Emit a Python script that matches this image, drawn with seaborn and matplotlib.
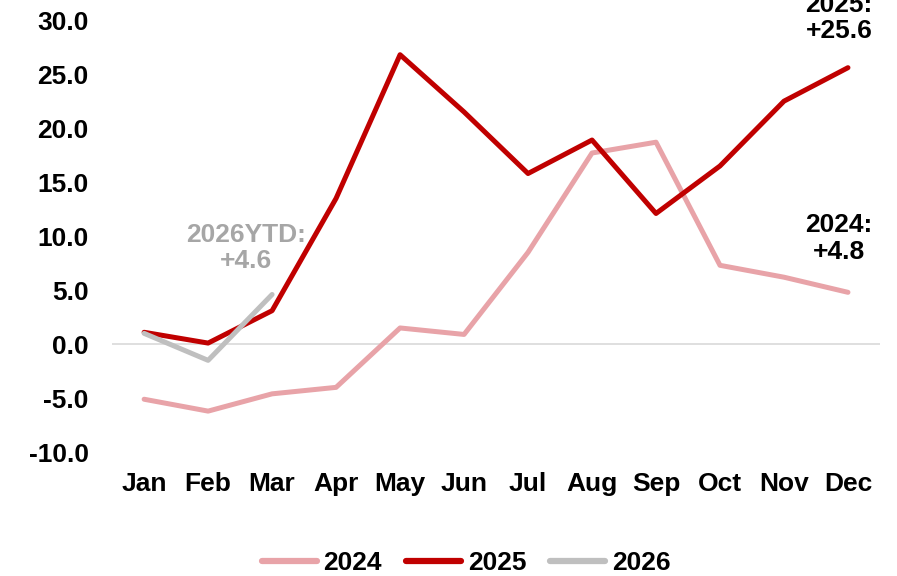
import numpy as np
import pandas as pd
import matplotlib
matplotlib.use("Agg")
import matplotlib.pyplot as plt
import seaborn as sns

months = ["Jan", "Feb", "Mar", "Apr", "May", "Jun", "Jul", "Aug", "Sep", "Oct", "Nov", "Dec"]
v2024 = [-5.1, -6.2, -4.6, -4.0, 1.5, 0.9, 8.5, 17.7, 18.7, 7.3, 6.2, 4.8]
v2025 = [1.1, 0.1, 3.1, 13.5, 26.8, 21.5, 15.8, 18.9, 12.1, 16.5, 22.5, 25.6]
v2026 = [1.0, -1.5, 4.6]
yticks = [-10, -5, 0, 5, 10, 15, 20, 25, 30]

rows = []
for m, v in zip(months, v2024):
    rows.append({"month": m, "value": v, "year": "2024"})
for m, v in zip(months, v2025):
    rows.append({"month": m, "value": v, "year": "2025"})
for m, v in zip(months, v2026):
    rows.append({"month": m, "value": v, "year": "2026"})
df = pd.DataFrame(rows)
df["x"] = df["month"].map({m: i for i, m in enumerate(months)})

sns.set_theme(style="white")
plt.rcParams["font.family"] = ["Liberation Sans", "DejaVu Sans"]
plt.rcParams["font.weight"] = "bold"
plt.rcParams["text.color"] = "black"
plt.rcParams["xtick.color"] = "black"
plt.rcParams["ytick.color"] = "black"

FS = 19
fig = plt.figure(figsize=(8.97, 5.76), dpi=100)
ax = fig.add_axes([0.125, 0.215, 0.856, 0.75])

palette = {"2024": "#E8A3A8", "2025": "#C00000", "2026": "#BFBFBF"}
ax.axhline(0, color="#D9D9D9", lw=1.2, zorder=1)
sns.lineplot(data=df, x="x", y="value", hue="year", palette=palette,
             linewidth=3.6, ax=ax, sort=False, estimator=None, zorder=3)

ax.set_xlim(-0.5, 11.5)
ax.set_ylim(-10, 30)
ax.set_xticks(range(len(months)))
ax.set_xticklabels(months, fontsize=FS, fontweight="bold", color="black")
ax.set_yticks(yticks)
ax.set_yticklabels([f"{t:.1f}" for t in yticks], fontsize=FS, fontweight="bold", color="black")
ax.tick_params(axis="x", length=0, pad=14)
ax.tick_params(axis="y", length=0, pad=17)
ax.set_xlabel("")
ax.set_ylabel("")
for s in ax.spines.values():
    s.set_visible(False)

ax.text(1.59, 8.9, "2026YTD:\n+4.6", color="#A6A6A6", fontsize=FS,
        fontweight="bold", ha="center", va="center", linespacing=1.15)
ax.text(10.86, 9.8, "2024:\n+4.8", color="black", fontsize=FS,
        fontweight="bold", ha="center", va="center", linespacing=1.15)
ax.text(10.86, 30.2, "2025:\n+25.6", color="black", fontsize=FS,
        fontweight="bold", ha="center", va="center", linespacing=1.15,
        clip_on=False)

leg = ax.legend(loc="center", bbox_to_anchor=(0.461, -0.257), ncol=3,
                frameon=False, fontsize=FS, handlelength=2.1,
                columnspacing=0.9, handletextpad=0.25)
for line in leg.get_lines():
    line.set_linewidth(4.5)
    line.set_solid_capstyle("round")
for t in leg.get_texts():
    t.set_fontweight("bold")
    t.set_color("black")

fig.savefig("out.png", dpi=100)
